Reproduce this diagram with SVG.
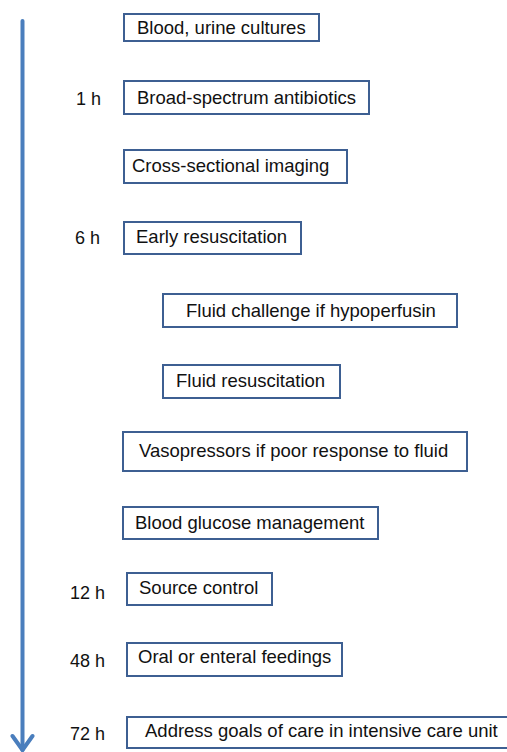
<svg xmlns="http://www.w3.org/2000/svg" width="507" height="752" viewBox="0 0 507 752">
<style>
.box rect{fill:#fff;stroke:#3d5f92;stroke-width:2}
.box text{font-family:"Liberation Sans",Arial,sans-serif;font-size:18.5px;fill:#111}
.hr{font-family:"Liberation Sans",Arial,sans-serif;font-size:18px;fill:#111}
.arrow{fill:none;stroke:#4a7ebd;stroke-width:4;stroke-linecap:round;stroke-linejoin:round}
</style>
<rect width="507" height="752" fill="#fff"/>
<g id="connectors">
<path class="arrow" d="M22.5 21 V750"/>
<path class="arrow" d="M12.5 736 L22.5 750 L32.5 736"/>
</g>
<g id="labels">
<text class="hr" x="76" y="105">1 h</text>
<text class="hr" x="75" y="244">6 h</text>
<text class="hr" x="70" y="599">12 h</text>
<text class="hr" x="70" y="667">48 h</text>
<text class="hr" x="70" y="740">72 h</text>
</g>
<g id="n1" class="box"><rect x="124" y="14" width="195" height="27"/><text x="137" y="34">Blood, urine cultures</text></g>
<g id="n2" class="box"><rect x="124" y="81" width="245" height="33"/><text x="137" y="103.5">Broad-spectrum antibiotics</text></g>
<g id="n3" class="box"><rect x="124" y="150" width="223" height="33"/><text x="132" y="172">Cross-sectional imaging</text></g>
<g id="n4" class="box"><rect x="124" y="222" width="177" height="32"/><text x="136" y="243">Early resuscitation</text></g>
<g id="n5" class="box"><rect x="163" y="294" width="294" height="33"/><text x="186" y="317">Fluid challenge if hypoperfusin</text></g>
<g id="n6" class="box"><rect x="163" y="365" width="177" height="33"/><text x="176" y="387">Fluid resuscitation</text></g>
<g id="n7" class="box"><rect x="123" y="432" width="344" height="39"/><text x="139" y="457">Vasopressors if poor response to fluid</text></g>
<g id="n8" class="box"><rect x="123" y="507" width="255" height="32"/><text x="135" y="528.5">Blood glucose management</text></g>
<g id="n9" class="box"><rect x="127" y="573" width="145" height="32"/><text x="139" y="593.5">Source control</text></g>
<g id="n10" class="box"><rect x="127" y="643" width="215" height="33"/><text x="138" y="663">Oral or enteral feedings</text></g>
<g id="n11" class="box"><rect x="127" y="717" width="385" height="31"/><text x="145" y="737">Address goals of care in intensive care unit</text></g>
</svg>
